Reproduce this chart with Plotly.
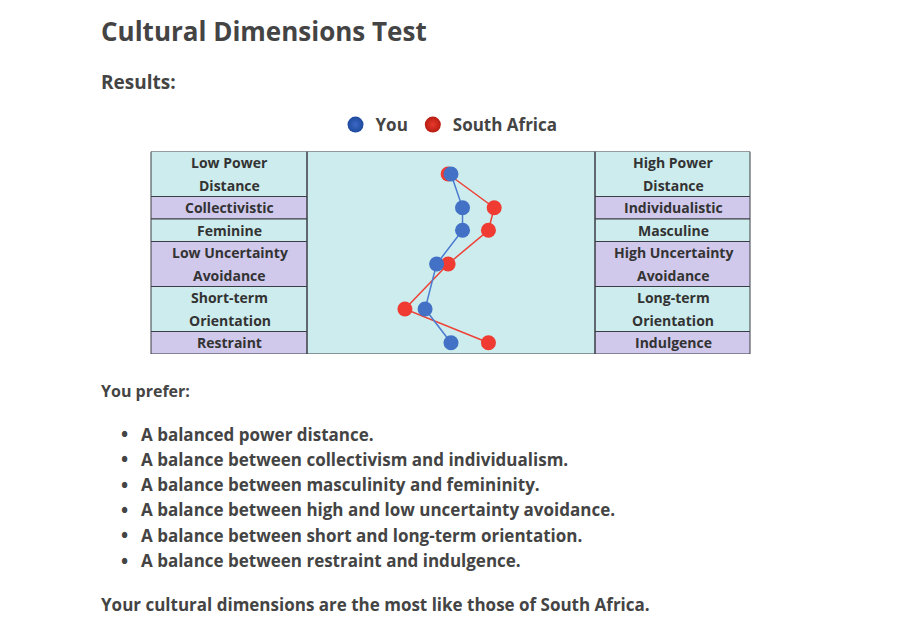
import plotly.graph_objects as go

W, H = 912, 622

# ---- data ----
dimensions = ["Power Distance", "Individualism", "Masculinity",
              "Uncertainty Avoidance", "Long-term Orientation", "Indulgence"]
left_labels = ["Low Power<br>Distance", "Collectivistic", "Feminine",
               "Low Uncertainty<br>Avoidance", "Short-term<br>Orientation", "Restraint"]
right_labels = ["High Power<br>Distance", "Individualistic", "Masculine",
                "High Uncertainty<br>Avoidance", "Long-term<br>Orientation", "Indulgence"]
you_scores = [50, 54, 54, 45, 41, 50]
south_africa_scores = [49, 65, 63, 49, 34, 63]
row_colors = ["#cdeced", "#d0c9ec", "#cdeced", "#d0c9ec", "#cdeced", "#d0c9ec"]
preferences = [
    "A balanced power distance.",
    "A balance between collectivism and individualism.",
    "A balance between masculinity and femininity.",
    "A balance between high and low uncertainty avoidance.",
    "A balance between short and long-term orientation.",
    "A balance between restraint and indulgence.",
]
title = "Cultural Dimensions Test"
conclusion = "Your cultural dimensions are the most like those of South Africa."

# ---- geometry helpers (pixel -> paper) ----
def px(x):
    return x / W

def py(y):
    return 1 - y / H

# row heights in line units
row_units = [lbl.count("<br>") + 1 for lbl in left_labels]
bounds = [0]
for u in row_units:
    bounds.append(bounds[-1] + u)
total_units = bounds[-1]
centers = [(bounds[i] + bounds[i + 1]) / 2 for i in range(len(row_units))]

TEXT = "#444444"
DARK = "#3a3d45"
FONT = "Open Sans"

fig = go.Figure()

fig.add_trace(go.Scatter(
    x=south_africa_scores, y=centers, mode="lines+markers", name="South Africa",
    line=dict(color="#ee4136", width=1.5),
    marker=dict(color="#ef3b32", size=15), showlegend=False,
    hovertext=dimensions))
fig.add_trace(go.Scatter(
    x=you_scores, y=centers, mode="lines+markers", name="You",
    line=dict(color="#4a7bd0", width=1.5),
    marker=dict(color="#4271c6", size=15), showlegend=False,
    hovertext=dimensions))

# legend-only entries with gradient markers
fig.add_trace(go.Scatter(x=[None], y=[None], mode="markers", name="You",
                         marker=dict(color="#1f4a9e", size=22,
                                     gradient=dict(type="radial", color="#3a68c4"))))
fig.add_trace(go.Scatter(x=[None], y=[None], mode="markers", name="South Africa",
                         marker=dict(color="#b81c12", size=22,
                                     gradient=dict(type="radial", color="#e83a2c"))))

shapes = []
annotations = []
xl0, xl1 = px(151), px(307)
xr0, xr1 = px(595), px(750)
for i in range(len(row_units)):
    for (a, b) in [(xl0, xl1), (xr0, xr1)]:
        shapes.append(dict(type="rect", xref="paper", yref="y", x0=a, x1=b,
                           y0=bounds[i], y1=bounds[i + 1], fillcolor=row_colors[i],
                           line=dict(color=DARK, width=1), layer="below"))
    for labels, xc in [(left_labels, px(229.5)), (right_labels, px(673))]:
        lines = labels[i].split("<br>")
        for j, ln in enumerate(lines):
            annotations.append(dict(
                text=ln, xref="paper", yref="y", x=xc,
                y=bounds[i] + j + 0.5, showarrow=False, xanchor="center", yanchor="middle",
                font=dict(family=FONT, size=14, color="#333333", weight=700)))

# middle panel border
shapes.append(dict(type="rect", xref="paper", yref="y", x0=xl1, x1=xr0,
                   y0=0, y1=total_units, line=dict(color=DARK, width=1),
                   fillcolor="rgba(0,0,0,0)"))

def page_text(text, x, y, size, xanchor="left"):
    annotations.append(dict(text=text, xref="paper", yref="paper", x=px(x), y=py(y),
                            xanchor=xanchor, yanchor="middle", showarrow=False,
                            font=dict(family=FONT, size=size, color=TEXT, weight=700)))

page_text(title, 99, 31, 26)
page_text("Results:", 99, 82, 19)
page_text("You prefer:", 99, 391, 16)
for k, p in enumerate(preferences):
    y = 434 + k * 25.3
    page_text("\u2022", 119, y, 19)
    page_text(p, 139, y, 17)
page_text(conclusion, 99, 604, 17)

fig.update_layout(
    width=W, height=H,
    margin=dict(l=0, r=0, t=0, b=0),
    paper_bgcolor="white",
    plot_bgcolor="#cdeced",
    font=dict(family=FONT, color=TEXT),
    xaxis=dict(domain=[xl1, xr0], range=[0, 100], visible=False, fixedrange=True),
    yaxis=dict(domain=[py(354), py(151.5)], range=[total_units, 0], visible=False,
               fixedrange=True),
    shapes=shapes,
    annotations=annotations,
    showlegend=True,
    legend=dict(orientation="h", x=px(449), xanchor="center", y=py(125), yanchor="middle",
                font=dict(family=FONT, size=17, color=TEXT, weight=700),
                bgcolor="rgba(0,0,0,0)", itemsizing="trace"),
)

fig.write_html("out.html", config={"displayModeBar": False},
               post_script="document.body.style.margin='0';document.body.style.overflow='hidden';")
